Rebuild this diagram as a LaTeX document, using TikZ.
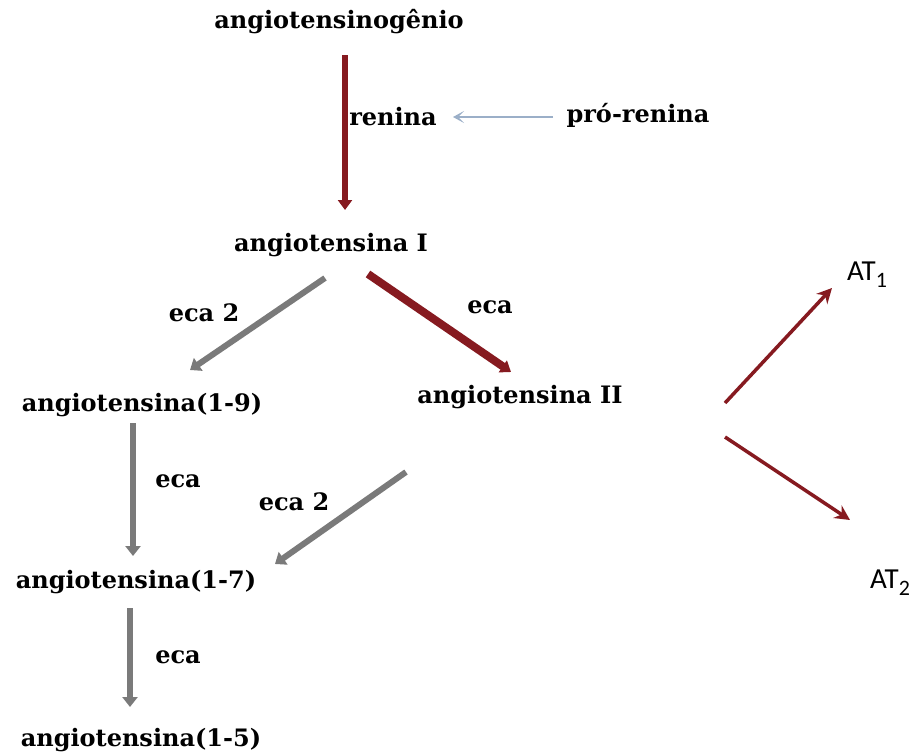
\documentclass[tikz,border=0pt]{standalone}
\usepackage{fontspec}
\setmainfont{DejaVu Serif}
\newfontfamily\atfont{Carlito}
\usetikzlibrary{arrows.meta}
\definecolor{darkred}{HTML}{861A20}
\definecolor{greyarr}{HTML}{7A7A7A}
\definecolor{bluearr}{HTML}{9BAFC8}
\tikzset{
  lbl/.style={font=\bfseries\fontsize{24}{28}\selectfont, inner sep=0pt, anchor=center},
  atlbl/.style={font=\atfont\fontsize{29}{32}\selectfont, inner sep=0pt},
  redarr/.style={draw=darkred, line width=6pt, -{Triangle[length=10pt,width=14pt]}},
  redthin/.style={draw=darkred, line width=3.5pt, -{Stealth[length=15pt,width=15pt,inset=5pt]}},
  greyarrow/.style={draw=greyarr, line width=6pt, -{Triangle[length=10pt,width=15pt]}},
  bluearrow/.style={draw=bluearr, line width=1.5pt, -{Stealth[length=11pt,width=12pt,inset=6pt]}},
}
\newcommand{\atsub}[1]{\raisebox{-0.25em}{\fontsize{22}{24}\selectfont #1}}
\begin{document}
\begin{tikzpicture}[x=1pt,y=-1pt]
\useasboundingbox (0,0) rectangle (915,755);
\node[lbl] (agt) at (339,22) {angiotensinogênio};
\node[lbl] (ren) at (393,117) {renina};
\node[lbl] (pro) at (638,115) {pró-renina};
\node[lbl] (a1) at (331,245) {angiotensina I};
\node[lbl] (e2a) at (204,313) {eca 2};
\node[lbl] (ea) at (490,307) {eca};
\node[lbl] (a19) at (142,405) {angiotensina(1-9)};
\node[lbl] (a2) at (520,397) {angiotensina II};
\node[atlbl] (at1) at (867,275) {AT\atsub{1}};
\node[atlbl] (at2) at (890,583) {AT\atsub{2}};
\node[lbl] (eb) at (178,481) {eca};
\node[lbl] (e2b) at (294,502) {eca 2};
\node[lbl] (a17) at (136,582) {angiotensina(1-7)};
\node[lbl] (ec) at (178,657) {eca};
\node[lbl] (a15) at (141,740) {angiotensina(1-5)};

\coordinate (s1) at (345,55); \coordinate (t1) at (345,210);
\draw[redarr] (s1) -- (t1);
\coordinate (bs) at (553,117); \coordinate (bt) at (453,117);
\draw[bluearrow] (bs) -- (bt);
\coordinate (g1s) at (325,278); \coordinate (g1t) at (190,370);
\draw[greyarrow] (g1s) -- (g1t);
\coordinate (r2s) at (368,274); \coordinate (r2t) at (511,372);
\draw[redarr, line width=8pt] (r2s) -- (r2t);
\coordinate (rAs) at (725,403); \coordinate (rAt) at (832,288);
\draw[redthin] (rAs) -- (rAt);
\coordinate (rBs) at (725,437); \coordinate (rBt) at (850,520);
\draw[redthin] (rBs) -- (rBt);
\coordinate (g2s) at (133,423); \coordinate (g2t) at (133,556);
\draw[greyarrow] (g2s) -- (g2t);
\coordinate (g3s) at (406,472); \coordinate (g3t) at (275,564);
\draw[greyarrow] (g3s) -- (g3t);
\coordinate (g4s) at (130,608); \coordinate (g4t) at (130,707);
\draw[greyarrow] (g4s) -- (g4t);
\end{tikzpicture}
\end{document}
